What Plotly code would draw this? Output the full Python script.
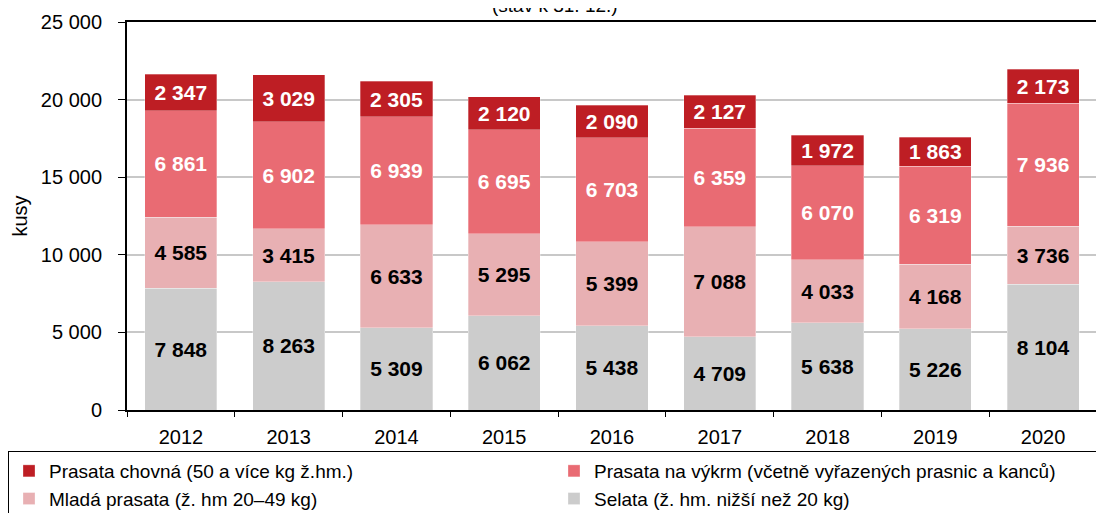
import plotly.graph_objects as go

years = ["2012", "2013", "2014", "2015", "2016", "2017", "2018", "2019", "2020"]
selata = [7848, 8263, 5309, 6062, 5438, 4709, 5638, 5226, 8104]
mlada = [4585, 3415, 6633, 5295, 5399, 7088, 4033, 4168, 3736]
vykrm = [6861, 6902, 6939, 6695, 6703, 6359, 6070, 6319, 7936]
chovna = [2347, 3029, 2305, 2120, 2090, 2127, 1972, 1863, 2173]

series = [
    ("Selata (ž. hm. nižší než 20 kg)", selata, "#CCCCCC", "black", 4),
    ("Mladá prasata (ž. hm 20–49 kg)", mlada, "#E8B0B3", "black", 3),
    ("Prasata na výkrm (včetně vyřazených prasnic a kanců)", vykrm, "#E96B73", "white", 2),
    ("Prasata chovná (50 a více kg ž.hm.)", chovna, "#BE1E24", "white", 1),
]

FONT = "Liberation Sans, Arial, Helvetica"

fig = go.Figure()
for name, vals, color, tcol, rank in series:
    fig.add_trace(go.Bar(
        x=years, y=vals, name=name,
        marker=dict(color=color, line=dict(width=0.5, color="rgba(255,255,255,0.6)")),
        texttemplate="%{y:,.0f}", textposition="inside", insidetextanchor="middle",
        textangle=0,
        textfont=dict(family=FONT, size=21, color=tcol, weight="bold"),
        legendrank=rank,
    ))

fig.update_layout(
    barmode="stack",
    bargap=0.33,
    width=1096, height=505,
    margin=dict(l=119, r=0, t=14, b=103, autoexpand=False),
    paper_bgcolor="white", plot_bgcolor="white",
    separators=", ",
    font=dict(family=FONT, size=20, color="black"),
    uniformtext=dict(minsize=21, mode="show"),
    showlegend=True,
    legend=dict(
        orientation="h", x=-119 / 977, xanchor="left", y=-0.1057, yanchor="top",
        entrywidth=500, entrywidthmode="pixels",
        bordercolor="black", borderwidth=1,
        font=dict(family=FONT, size=19), traceorder="normal",
        itemwidth=30, tracegroupgap=0,
    ),
    xaxis=dict(
        domain=[0, 970 / 977],
        showline=True, linecolor="black", linewidth=2, mirror=True,
        ticks="outside", tickson="boundaries", ticklen=5, tickcolor="black",
        tickfont=dict(size=20), ticklabelstandoff=8,
    ),
    yaxis=dict(
        range=[0, 25000], dtick=5000, tickformat=",",
        showline=True, linecolor="black", linewidth=2, mirror=True,
        showgrid=True, gridcolor="#C8C8C8", gridwidth=1.5,
        ticks="outside", ticklen=7, tickcolor="black",
        tickfont=dict(size=20), ticklabelstandoff=12,
        title=dict(text="kusy", font=dict(size=20), standoff=8),
    ),
    annotations=[dict(
        text="(stav k 31. 12.)", xref="paper", yref="paper",
        x=0.438, y=1.0, yanchor="bottom", xanchor="center", yshift=4,
        showarrow=False, font=dict(size=19),
    )],
)

fig.write_html("out.html")
